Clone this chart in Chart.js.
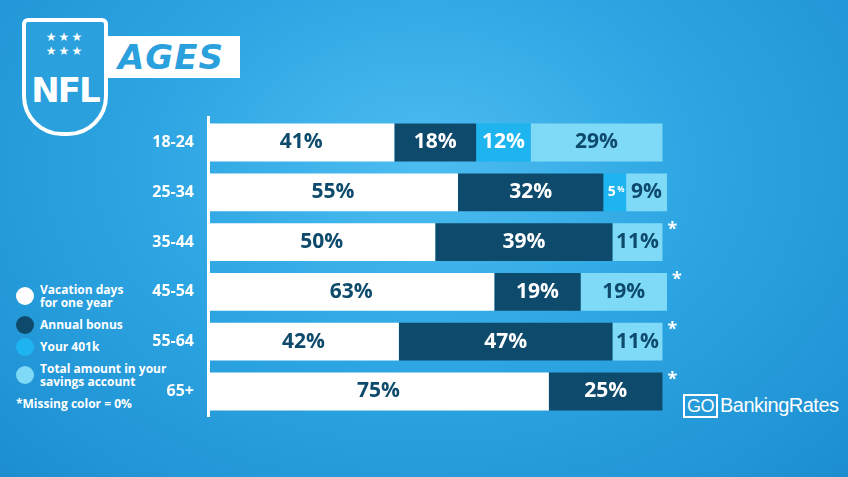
<!DOCTYPE html>
<html>
<head>
<meta charset="utf-8">
<script src="https://cdn.jsdelivr.net/npm/chart.js@4"></script>
<style>
  body { margin:0; width:848px; height:477px; overflow:hidden; font-family:"Open Sans", sans-serif;
    background: radial-gradient(ellipse at 50% 35%, #4cbdf0 0%, #2ea6e3 45%, #1c8ed0 100%); position:relative; }
  #chart { position:absolute; left:140px; top:94px; }
  .shield { position:absolute; left:22px; top:18px; width:86px; height:118px; border:4px solid #fff; border-radius:6px 6px 40px 40px;
    background:#2aa0dc; color:#fff; font:900 34px "DejaVu Sans", sans-serif; text-align:center; box-sizing:border-box; padding-top:48px; letter-spacing:-2px; }
  .shield .stars { position:absolute; top:8px; left:0; right:0; font-size:12px; letter-spacing:2px; }
  .title { position:absolute; left:108px; top:36px; width:132px; height:42px; background:#fff; color:#2aa0dc;
    font:italic 900 34px "DejaVu Sans", sans-serif; line-height:42px; padding-left:10px; box-sizing:border-box; letter-spacing:1px; }
  .legend { position:absolute; left:16px; top:283px; color:#fff; font:bold 12px "Open Sans", sans-serif; line-height:13px; }
  .li { position:relative; padding-left:24px; margin-bottom:9px; }
  .dot { position:absolute; left:0; top:50%; margin-top:-9px; width:18px; height:18px; border-radius:50%; }
  .gbr { position:absolute; left:683px; top:394px; color:#fff; font:20px "Liberation Sans", sans-serif; letter-spacing:-0.5px; }
  .gbr span { border:2px solid #fff; padding:0 2px; margin-right:2px; font-size:18px; }
</style>
</head>
<body>
<div class="shield"><div class="stars">★★★ ★★★</div>NFL</div>
<div class="title">AGES</div>
<div class="legend">
  <div class="li"><div class="dot" style="background:#fff"></div>Vacation days<br>for one year</div>
  <div class="li"><div class="dot" style="background:#0e4a6c"></div>Annual bonus</div>
  <div class="li"><div class="dot" style="background:#1db4f0"></div>Your 401k</div>
  <div class="li"><div class="dot" style="background:#7fdaf7"></div>Total amount in your<br>savings account</div>
  <div>*Missing color = 0%</div>
</div>
<div class="gbr"><span>GO</span>BankingRates</div>
<canvas id="chart" width="550" height="346"></canvas>
<script>
// ================= DATA =================
const ageGroups = ["18-24", "25-34", "35-44", "45-54", "55-64", "65+"];
const vacation = [41, 55, 50, 63, 42, 75];
const bonus = [18, 32, 39, 19, 47, 25];
const k401 = [12, 5, 0, 0, 0, 0];
const savings = [29, 9, 11, 19, 11, 0];
const seriesNames = ["Vacation days for one year", "Annual bonus", "Your 401k", "Total amount in your savings account"];
const colors = ["#ffffff", "#0e4a6c", "#1db4f0", "#7fdaf7"];
const labelColors = ["#0e4a6c", "#ffffff", "#ffffff", "#0e4a6c"];

// ================= PLUGINS =================
const valueLabels = {
  id: "valueLabels",
  afterDatasetsDraw(chart) {
    const ctx = chart.ctx;
    ctx.save();
    ctx.textAlign = "center";
    ctx.textBaseline = "middle";
    chart.data.datasets.forEach((ds, di) => {
      chart.getDatasetMeta(di).data.forEach((bar, i) => {
        const v = ds.data[i];
        if (!v) return;
        const cx = (bar.x + bar.base) / 2;
        ctx.fillStyle = labelColors[di];
        if (v < 7) {
          ctx.font = "bold 14px 'Open Sans'";
          ctx.fillText(v, cx - 3, bar.y);
          ctx.font = "bold 8px 'Open Sans'";
          ctx.fillText("%", cx + 6, bar.y - 3);
        } else {
          ctx.font = "bold 21px 'Open Sans'";
          ctx.fillText(v + "%", cx, bar.y);
        }
      });
    });
    // asterisk where a colour is missing
    const meta = chart.getDatasetMeta(3);
    ctx.fillStyle = "#fff";
    ctx.font = "bold 18px 'Open Sans'";
    ageGroups.forEach((g, i) => {
      if (k401[i] === 0 || savings[i] === 0) {
        const x = chart.scales.x.getPixelForValue(vacation[i] + bonus[i] + k401[i] + savings[i]);
        ctx.fillText("*", x + 10, meta.data[i].y - 12);
      }
    });
    ctx.restore();
  }
};

// ================= CHART =================
new Chart(document.getElementById("chart"), {
  type: "bar",
  data: {
    labels: ageGroups,
    datasets: [vacation, bonus, k401, savings].map((d, i) => ({
      label: seriesNames[i], data: d, backgroundColor: colors[i],
      barPercentage: 0.76, categoryPercentage: 1
    }))
  },
  options: {
    indexAxis: "y",
    responsive: false,
    animation: false,
    devicePixelRatio: 1,
    layout: { padding: { right: 23 } },
    plugins: { legend: { display: false }, tooltip: { enabled: false } },
    scales: {
      x: { stacked: true, min: 0, max: 101, display: false },
      y: {
        stacked: true,
        afterFit(s) { s.width = 68; },
        grid: { display: false, drawTicks: false },
        border: { color: "#fff", width: 3 },
        ticks: { color: "#fff", font: { family: "Open Sans", weight: "bold", size: 16 }, padding: 14 }
      }
    }
  },
  plugins: [valueLabels]
});
</script>
</body>
</html>
